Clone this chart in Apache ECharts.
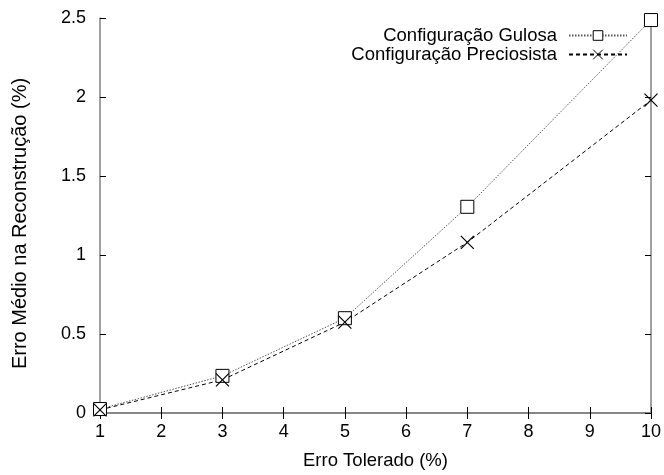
<!DOCTYPE html>
<html><head><meta charset="utf-8">
<script src="https://cdn.jsdelivr.net/npm/echarts@6/dist/echarts.min.js"></script>
<style>html,body{margin:0;padding:0;background:#fff}#c{width:664px;height:475px}</style>
</head><body><div id="c"></div>
<script>
var xValues = [1, 3, 5, 7, 10];
var gulosa = [0.025, 0.235, 0.60, 1.305, 2.487];
var preciosista = [0.02, 0.21, 0.575, 1.08, 1.98];
var seriesNames = ['Configuração Gulosa', 'Configuração Preciosista'];
var xTitle = 'Erro Tolerado (%)';
var yTitle = 'Erro Médio na Reconstrução (%)';

var FONT = 'Liberation Sans, Arial, sans-serif';
var crossPath = 'path://M0,0L10,10M10,0L0,10';
function pairs(ys){ return xValues.map(function(x,i){return [x, ys[i]];}); }

var chart = echarts.init(document.getElementById('c'), null, {renderer:'canvas'});
var axisLine = {show:true, lineStyle:{color:'#808080', width:1.5}};
chart.setOption({
  animation:false,
  backgroundColor:'#fff',
  grid:{left:100, right:13, top:18, bottom:61, containLabel:false},
  legend:{
    right:36, top:26, padding:0, orient:'vertical', align:'right',
    itemWidth:58, itemHeight:12, itemGap:0,
    itemStyle:{borderWidth:1},
    textStyle:{fontFamily:FONT, fontSize:18.5, color:'#000', padding:[0,7,0,0]},
    data:[{name:seriesNames[0]},{name:seriesNames[1]}]
  },
  xAxis:[{
    type:'value', min:1, max:10, interval:1, position:'bottom',
    name:xTitle, nameLocation:'middle', nameGap:38,
    nameTextStyle:{fontFamily:FONT, fontSize:18.5, color:'#000'},
    axisLine:axisLine,
    axisTick:{show:true, inside:true, length:6, lineStyle:{color:'#000'}},
    axisLabel:{fontFamily:FONT, fontSize:18, color:'#000', margin:10},
    splitLine:{show:false}
  },{
    type:'value', min:1, max:10, interval:1, position:'top',
    axisLine:axisLine,
    axisTick:{show:true, inside:true, length:6, lineStyle:{color:'#000'}},
    axisLabel:{show:false}, splitLine:{show:false}
  }],
  yAxis:[{
    type:'value', min:0, max:2.5, interval:0.5, position:'left',
    name:yTitle, nameLocation:'middle', nameGap:70, nameRotate:90,
    nameTextStyle:{fontFamily:FONT, fontSize:20, color:'#000', padding:[0,16,0,0]},
    axisLine:axisLine,
    axisTick:{show:true, inside:true, length:6, lineStyle:{color:'#000'}},
    axisLabel:{fontFamily:FONT, fontSize:18, color:'#000', margin:14},
    splitLine:{show:false}
  },{
    type:'value', min:0, max:2.5, interval:0.5, position:'right',
    axisLine:axisLine,
    axisTick:{show:true, inside:true, length:6, lineStyle:{color:'#000'}},
    axisLabel:{show:false}, splitLine:{show:false}
  }],
  series:[{
    name:seriesNames[0], type:'line', data:pairs(gulosa),
    symbol:'rect', symbolSize:13,
    itemStyle:{color:'#fff', borderColor:'#000', borderWidth:1},
    lineStyle:{color:'#555', width:1, type:[1.5,1.5]}
  },{
    name:seriesNames[1], type:'line', data:pairs(preciosista),
    symbol:crossPath, symbolSize:13,
    itemStyle:{color:'#000', borderColor:'#000', borderWidth:1.2},
    lineStyle:{color:'#000', width:1, type:[4,3]}
  }]
});
</script></body></html>
